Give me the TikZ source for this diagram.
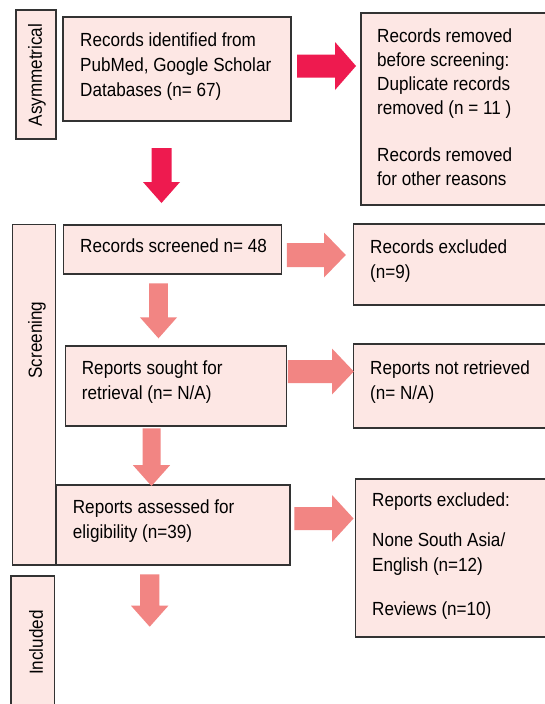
\documentclass[tikz,border=0pt]{standalone}
\usepackage{fontspec}
\setmainfont{Liberation Sans}[FakeStretch=0.9]
\definecolor{boxfill}{HTML}{FDE7E4}
\definecolor{boxline}{HTML}{333333}
\definecolor{redarrow}{HTML}{EE1A4F}
\definecolor{pinkarrow}{HTML}{F28583}
% horizontal block arrow: color, x0, tip x, head-start x, y centre, shaft half, head half
\newcommand{\blockR}[7]{\fill[#1] (#2,#5-#6) -- (#4,#5-#6) -- (#4,#5-#7) -- (#3,#5) -- (#4,#5+#7) -- (#4,#5+#6) -- (#2,#5+#6) -- cycle;}
% vertical block arrow: color, y0, tip y, head-start y, x centre, shaft half, head half
\newcommand{\blockD}[7]{\fill[#1] (#5-#6,#2) -- (#5-#6,#4) -- (#5-#7,#4) -- (#5,#3) -- (#5+#7,#4) -- (#5+#6,#4) -- (#5+#6,#2) -- cycle;}
\begin{document}
\begin{tikzpicture}[x=1pt,y=-1pt,
  box/.style={draw=boxline, fill=boxfill, line width=1.1pt, inner sep=0pt},
  txt/.style={anchor=north west, inner sep=0pt, align=left, font=\fontsize{19}{25}\selectfont},
  side/.style={rotate=90, inner sep=0pt, font=\fontsize{19}{25}\selectfont}]
\useasboundingbox (0,0) rectangle (545,704);
\clip (0,0) rectangle (545,704);
\fill[white] (0,0) rectangle (545,704);

% boxes
\draw[box] (16,10) rectangle (56,139);
\node[side] (asym) at (37,75) {Asymmetrical};
\draw[box] (63,17) rectangle (291,121);
\draw[box] (361,13) rectangle (560,205);
\draw[box] (12.7,224.7) rectangle (55.7,565);
\node[side] (scr) at (37,340) {Screening};
\draw[box] (63.3,225) rectangle (281.7,274);
\draw[box] (353.5,224) rectangle (560,305);
\draw[box] (65.3,346) rectangle (286.7,426);
\draw[box] (353.5,344) rectangle (560,428);
\draw[box] (56,485) rectangle (290,565);
\draw[box] (355.6,479) rectangle (560,637);
\draw[box] (11,576) rectangle (54.3,720);
\node[side] (incl) at (36,642.5) {Included};

% texts
\node[txt] (tid) at (80,32.3) {Records identified from\\PubMed, Google Scholar\\Databases (n= 67)};
\node[txt, font=\fontsize{19}{24}\selectfont] (trem) at (377,28.3) {Records removed\\before screening:\\Duplicate records\\removed (n = 11 )\\[23pt]Records removed\\for other reasons};
\node[txt] (tscr) at (80,239) {Records screened n= 48};
\node[txt] (texc) at (370,239.3) {Records excluded\\(n=9)};
\node[txt] (tsou) at (81.7,360.3) {Reports sought for\\retrieval (n= N/A)};
\node[txt] (tnot) at (370,360.3) {Reports not retrieved\\(n= N/A)};
\node[txt] (tass) at (72.7,499.6) {Reports assessed for\\eligibility (n=39)};
\node[txt] (trex) at (372,493) {Reports excluded:\\[15pt]None South Asia/\\English (n=12)\\[19pt]Reviews (n=10)};

% block arrows
\blockR{redarrow}{297}{356}{335}{66}{11.5}{24}
\blockD{redarrow}{148}{203}{182}{161.5}{10}{18.5}
\blockR{pinkarrow}{286.8}{345.8}{324}{255}{12}{22.5}
\blockD{pinkarrow}{283.3}{338.3}{317.3}{158.5}{9.3}{18.6}
\blockR{pinkarrow}{287.8}{353.8}{332}{371.5}{11.5}{23}
\blockD{pinkarrow}{428.3}{486}{465}{151.5}{9}{18.7}
\blockR{pinkarrow}{294.4}{353.5}{332}{518.5}{11.5}{23.5}
\blockD{pinkarrow}{574.3}{626.7}{605.7}{149.7}{9.7}{18.7}
\end{tikzpicture}
\end{document}
